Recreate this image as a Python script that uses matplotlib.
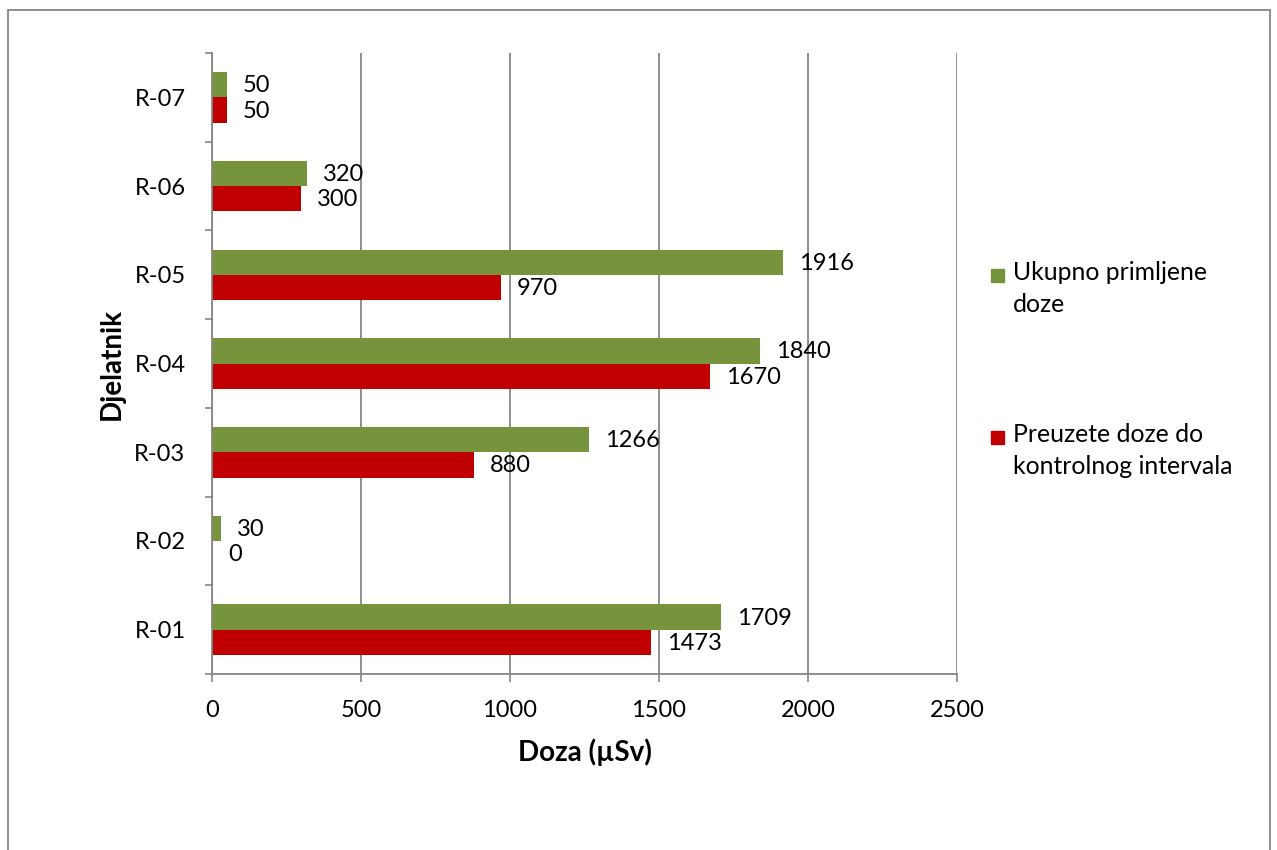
import matplotlib.pyplot as plt
from matplotlib.patches import Rectangle
import numpy as np

plt.rcParams['font.family'] = ['Lato', 'DejaVu Sans']

# Podaci
djelatnici = ['R-01', 'R-02', 'R-03', 'R-04', 'R-05', 'R-06', 'R-07']
ukupno = [1709, 30, 1266, 1840, 1916, 320, 50]
preuzete = [1473, 0, 880, 1670, 970, 300, 50]
x_ticks = [0, 500, 1000, 1500, 2000, 2500]

zelena = '#77933C'
crvena = '#C00000'
siva = '#868686'

fig = plt.figure(figsize=(12.77, 8.5), dpi=100)
ax = fig.add_axes([0.166, 0.207, 0.5834, 0.7306])

y = np.arange(len(djelatnici))
h = 0.285
b1 = ax.barh(y + h / 2, ukupno, height=h, color=zelena, zorder=3)
b2 = ax.barh(y - h / 2, preuzete, height=h, color=crvena, zorder=3)

for bars, vals in [(b1, ukupno), (b2, preuzete)]:
    for bar, v in zip(bars, vals):
        ax.annotate(str(v), (v, bar.get_y() + bar.get_height() / 2),
                    xytext=(16, -1), textcoords='offset pixels',
                    ha='left', va='center', fontsize=17)

ax.set_xlim(0, 2500)
ax.set_ylim(-0.5, len(djelatnici) - 0.5)
ax.set_xticks(x_ticks)
ax.set_yticks(y)
ax.set_yticklabels(djelatnici)
ax.set_yticks(np.arange(-0.5, len(djelatnici), 1), minor=True)
ax.tick_params(axis='y', which='major', length=0, pad=19, labelsize=17)
ax.tick_params(axis='y', which='minor', length=5, width=1.2, color=siva)
ax.tick_params(axis='x', length=6, width=1.2, color=siva, pad=13, labelsize=17)

ax.grid(axis='x', color=siva, linewidth=1.3, zorder=0)
for s in ['top', 'right']:
    ax.spines[s].set_visible(False)
for s in ['left', 'bottom']:
    ax.spines[s].set_color(siva)
    ax.spines[s].set_linewidth(1.3)
ax.spines['left'].set_zorder(4)

ax.set_xlabel('Doza (µSv)', fontsize=20, fontweight='bold', labelpad=12)
ax.set_ylabel('Djelatnik', fontsize=20, fontweight='bold', labelpad=7)

# Legenda
legenda = [(zelena, 'Ukupno primljene\ndoze', 275),
           (crvena, 'Preuzete doze do\nkontrolnog intervala', 437)]
for boja, tekst, ypx in legenda:
    fig.add_artist(Rectangle((991 / 1277, 1 - (ypx + 7) / 850), 13 / 1277, 13 / 850,
                             transform=fig.transFigure, color=boja))
    fig.text(1013 / 1277, 1 - (ypx - 14) / 850, tekst, fontsize=17.8,
             va='top', ha='left', linespacing=1.5)

# Okvir
fig.add_artist(Rectangle((8 / 1277, -0.02), 1262 / 1277, 1.02 - 10 / 850,
                         transform=fig.transFigure, fill=False,
                         edgecolor=siva, linewidth=1.3))

fig.savefig('out.png', dpi=100)
